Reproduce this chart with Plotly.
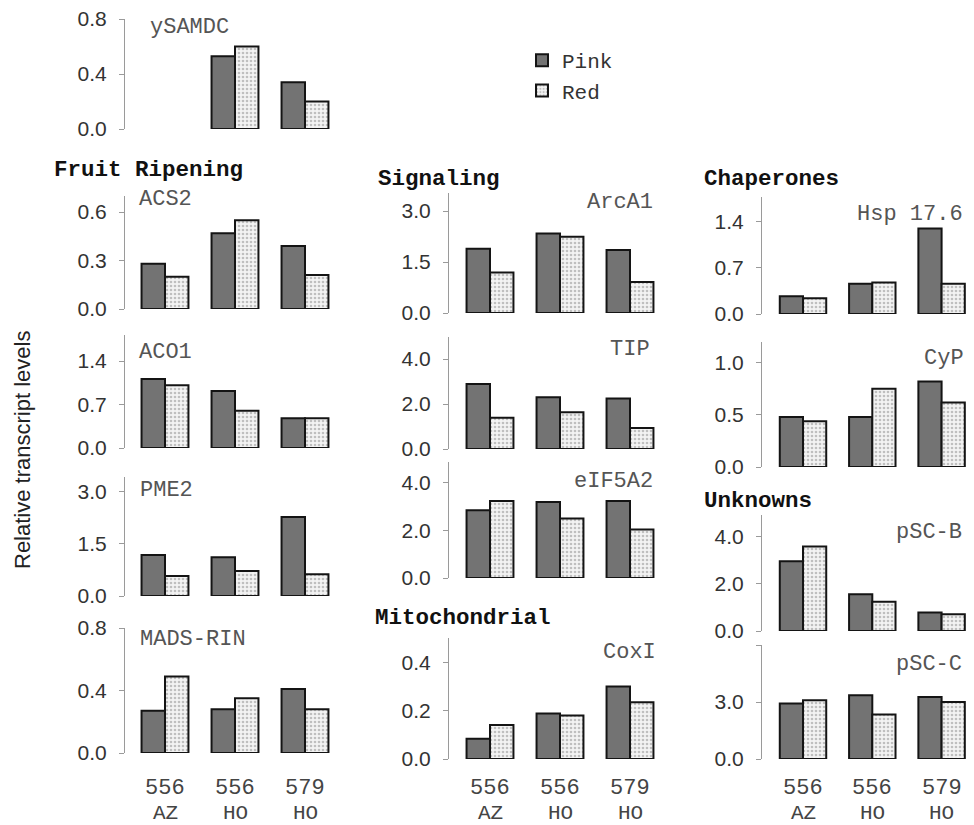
import plotly.graph_objects as go

# ---------------- data ----------------
groups = ["556 AZ", "556 HO", "579 HO"]
group_line1 = ["556", "556", "579"]
group_line2 = ["AZ", "HO", "HO"]

ysamdc_pink = [None, 0.53, 0.34]
ysamdc_red = [None, 0.60, 0.20]
acs2_pink = [0.28, 0.47, 0.39]
acs2_red = [0.20, 0.55, 0.21]
aco1_pink = [1.11, 0.92, 0.48]
aco1_red = [1.01, 0.60, 0.48]
pme2_pink = [1.18, 1.12, 2.28]
pme2_red = [0.58, 0.72, 0.63]
mads_pink = [0.27, 0.28, 0.41]
mads_red = [0.49, 0.35, 0.28]
arca1_pink = [1.89, 2.34, 1.85]
arca1_red = [1.19, 2.24, 0.91]
tip_pink = [2.89, 2.30, 2.24]
tip_red = [1.39, 1.63, 0.93]
eif5a2_pink = [2.85, 3.20, 3.24]
eif5a2_red = [3.24, 2.50, 2.04]
coxi_pink = [0.084, 0.188, 0.30]
coxi_red = [0.14, 0.18, 0.235]
hsp_pink = [0.27, 0.46, 1.30]
hsp_red = [0.24, 0.48, 0.46]
cyp_pink = [0.48, 0.48, 0.82]
cyp_red = [0.44, 0.75, 0.62]
pscb_pink = [2.96, 1.56, 0.79]
pscb_red = [3.59, 1.24, 0.71]
pscc_pink = [2.92, 3.35, 3.26]
pscc_red = [3.09, 2.34, 3.00]

# ---------------- layout helpers ----------------
OFF = 8                      # page body margin
W, H = 974 - OFF, 825 - OFF  # figure size in px
def px(x): return (x - OFF) / W
def py(y): return 1 - (y - OFF) / H

MONO = "Liberation Mono, Courier New, monospace"
SANS = "Liberation Sans, Arial, sans-serif"

# column: (axis x screen px, right screen px, first group centre px, px per category)
cols = [(125, 340, 165, 70.0), (449, 665, 490, 70.0), (762, 966, 803, 69.3)]

# name, pink, red, col, top_px, zero_px, range_top, tickvals, ticktext, label x px, label y px, label anchor
panels = [
    ("ySAMDC", ysamdc_pink, ysamdc_red, 0, 19, 129, 0.8, [0, 0.4, 0.8], None, 148, 28, "left"),
    ("ACS2", acs2_pink, acs2_red, 0, 196, 309, 0.70, [0, 0.3, 0.6], None, 137, 199, "left"),
    ("ACO1", aco1_pink, aco1_red, 0, 335, 448, 1.82, [0, 0.7, 1.4], None, 137, 352, "left"),
    ("PME2", pme2_pink, pme2_red, 0, 477, 596, 3.43, [0, 1.5, 3.0], None, 138, 491, "left"),
    ("MADS-RIN", mads_pink, mads_red, 0, 628, 753, 0.80, [0, 0.4, 0.8], None, 138, 639, "left"),
    ("ArcA1", arca1_pink, arca1_red, 1, 193, 313, 3.53, [0, 1.5, 3.0], None, 655, 202, "right"),
    ("TIP", tip_pink, tip_red, 1, 337, 449, 4.98, [0, 2, 4], None, 652, 349, "right"),
    ("eIF5A2", eif5a2_pink, eif5a2_red, 1, 462, 578, 4.88, [0, 2, 4], None, 655, 481, "right"),
    ("CoxI", coxi_pink, coxi_red, 1, 638, 759, 0.50, [0, 0.2, 0.4], None, 658, 652, "right"),
    ("Hsp 17.6", hsp_pink, hsp_red, 2, 197, 314, 1.78, [0, 0.7, 1.4], None, 965, 214, "right"),
    ("CyP", cyp_pink, cyp_red, 2, 342, 467, 1.20, [0, 0.5, 1.0], None, 966, 359, "right"),
    ("pSC-B", pscb_pink, pscb_red, 2, 515, 631, 4.93, [0, 2, 4], None, 964, 532, "right"),
    ("pSC-C", pscc_pink, pscc_red, 2, 645, 759, 6.0, [0, 3, 6], ["0.0", "3.0", ""], 964, 664, "right"),
]

headings = [("Fruit Ripening", 52, 170), ("Signaling", 376, 179), ("Mitochondrial", 373, 618),
            ("Chaperones", 702, 179), ("Unknowns", 702, 501)]

fig = go.Figure()
layout = dict()
annotations = []
bottom_axis_of_col = {}

for i, (name, pink, red, col, top_px, zero_px, rtop, tv, tt, lx, ly, lanchor) in enumerate(panels):
    n = i + 1
    xn = "x" if n == 1 else f"x{n}"
    yn = "y" if n == 1 else f"y{n}"
    x0, x1, c0, cpx = cols[col]
    r0 = -(c0 - x0) / cpx
    r1 = r0 + (x1 - x0) / cpx
    fig.add_trace(go.Bar(
        x=list(range(len(groups))), y=pink, xaxis=xn, yaxis=yn, name="Pink",
        legendgroup="Pink", showlegend=(n == 1),
        marker=dict(color="#737373", line=dict(color="#141414", width=2)),
        hoverinfo="y"))
    fig.add_trace(go.Bar(
        x=list(range(len(groups))), y=red, xaxis=xn, yaxis=yn, name="Red",
        legendgroup="Red", showlegend=(n == 1),
        marker=dict(color="#f3f3f3", line=dict(color="#141414", width=2),
                    pattern=dict(shape=".", fgcolor="#8c8c8c", bgcolor="#f3f3f3",
                                 size=4, solidity=0.35)),
        hoverinfo="y"))
    layout["xaxis" if n == 1 else f"xaxis{n}"] = dict(
        domain=[px(x0), px(x1)], range=[r0, r1], anchor=yn, automargin=False,
        showline=False, showticklabels=False, ticks="", showgrid=False, zeroline=False)
    yax = dict(
        domain=[py(zero_px), py(top_px)], range=[0, rtop], anchor=xn, automargin=False,
        showline=True, linecolor="#9a9a9a", linewidth=1,
        ticks="outside", ticklen=5, tickcolor="#9a9a9a", tickwidth=1,
        tickvals=tv, tickfont=dict(family=SANS, size=21, color="#333333"),
        showgrid=False, zeroline=False, ticklabelstandoff=8,
        ticklabeloverflow="allow")
    if tt is not None:
        yax["ticktext"] = tt
    else:
        yax["tickformat"] = ".1f"
    layout["yaxis" if n == 1 else f"yaxis{n}"] = yax
    annotations.append(dict(
        text=name, x=px(lx), y=py(ly), xref="paper", yref="paper",
        xanchor=lanchor, yanchor="middle", showarrow=False,
        font=dict(family=MONO, size=22, color="#555555")))
    bottom_axis_of_col[col] = xn  # last panel per column is the bottom one

# category labels below each column
for col, xn in bottom_axis_of_col.items():
    for k in range(len(groups)):
        annotations.append(dict(text=group_line1[k], x=k, y=py(788), xref=xn, yref="paper",
                                xanchor="center", yanchor="middle", showarrow=False,
                                font=dict(family=MONO, size=22, color="#444444")))
        annotations.append(dict(text=group_line2[k], x=k, y=py(813), xref=xn, yref="paper",
                                xanchor="center", yanchor="middle", showarrow=False,
                                font=dict(family=MONO, size=21, color="#444444")))

for text, hx, hy in headings:
    annotations.append(dict(text=f"<b>{text}</b>", x=px(hx), y=py(hy), xref="paper", yref="paper",
                            xanchor="left", yanchor="middle", showarrow=False,
                            font=dict(family=MONO, size=22.5, color="#111111")))

annotations.append(dict(text="Relative transcript levels", x=px(22), y=py(450),
                        xref="paper", yref="paper", textangle=-90, showarrow=False,
                        xanchor="center", yanchor="middle",
                        font=dict(family=SANS, size=22, color="#222222")))

fig.update_layout(
    **layout,
    annotations=annotations,
    width=W, height=H, autosize=False,
    margin=dict(l=0, r=0, t=0, b=0, pad=0, autoexpand=False),
    barmode="group", bargap=0.33, bargroupgap=0,
    paper_bgcolor="white", plot_bgcolor="white",
    showlegend=True,
    legend=dict(x=px(522), y=py(40), xanchor="left", yanchor="top",
                font=dict(family=MONO, size=21, color="#333333"),
                bgcolor="rgba(0,0,0,0)", tracegroupgap=0, itemwidth=30),
)

fig.write_html("out.html")
